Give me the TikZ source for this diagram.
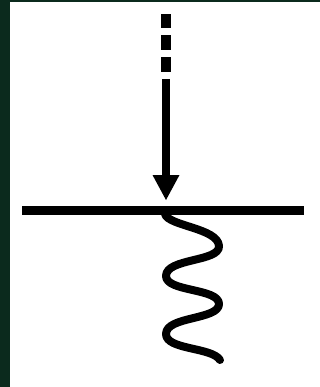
\documentclass[tikz,border=0pt]{standalone}
\definecolor{frame}{HTML}{0B2A1D}
\begin{document}
\begin{tikzpicture}[x=1pt,y=-1pt,
  bar/.style={line width=9pt},
  shaft/.style={line width=8pt},
  wave/.style={line width=8pt,line cap=round,line join=round}]
\fill[frame] (0,0) rectangle (320,387);
\fill[white] (10,2) rectangle (320,387);
\useasboundingbox (0,0) rectangle (320,387);
% dashed part
\fill[black] (161,14) rectangle (171,28);
\fill[black] (161,35) rectangle (171,50);
\fill[black] (161,57) rectangle (171,72);
\coordinate (top) at (166,79);
\coordinate (base) at (166,176);
\coordinate (tip) at (166,200);
\draw[shaft] (top) -- (base);
\fill[black] (152.5,175) -- (179.5,175) -- (tip) -- cycle;
% horizontal line
\coordinate (L) at (22,210.5);
\coordinate (R) at (304,210.5);
\draw[bar] (L) -- (R);
% wave
\coordinate (w0) at (165,214);
\draw[wave] (w0) .. controls (168,226) and (218,228) .. (219,246)
  .. controls (220,262) and (166,258) .. (166,276)
  .. controls (166,292) and (219,288) .. (219,304)
  .. controls (219,320) and (166,316) .. (166,334)
  .. controls (166,350) and (212,347) .. (220,360);
\end{tikzpicture}
\end{document}
